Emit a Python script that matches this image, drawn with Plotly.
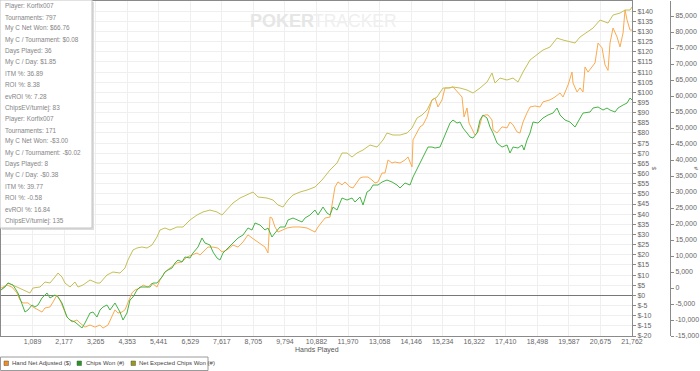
import plotly.graph_objects as go

# ---------------- data ----------------
HANDS_NET = [1, 207, 379, 552, 655, 759, 931, 1104, 1276, 1414, 1518, 1690, 1793, 1931, 2035, 2138, 2276, 2449, 2621, 2725,
             2897, 3070, 3242, 3415, 3518, 3690, 3828, 3932, 4035, 4173, 4277, 4380, 4518, 4622, 4794, 4898, 5070, 5208, 5380, 5484,
             5656, 5829, 6070, 6243, 6415, 6588, 6760, 6864, 7036, 7139, 7312, 7484, 7622, 7795, 8002, 8174, 8347, 8519, 8657, 8760,
             8933, 9105, 9209, 9278, 9346, 9450, 9554, 9692, 9864, 10071, 10313, 10554, 10726, 10830, 10933, 11071, 11175, 11347, 11451, 11520,
             11623, 11761, 11865, 12037, 12140, 12278, 12382, 12485, 12658, 12796, 12899, 13003, 13141, 13244, 13348, 13486, 13589, 13762, 13934, 14037,
             14175, 14210, 14348, 14451, 14555, 14693, 14865, 14969, 15072, 15210, 15314, 15486, 15589, 15762, 15900, 15969, 16072, 16141, 16245, 16348,
             16452, 16590, 16693, 16796, 16934, 16969, 17107, 17279, 17452, 17555, 17659, 17797, 17900, 18004, 18141, 18245, 18417, 18590, 18693, 18935,
             19107, 19280, 19383, 19555, 19693, 19728, 19866, 19970, 20073, 20142, 20246, 20384, 20487, 20591, 20729, 20832, 20935, 21004, 21108, 21246,
             21349, 21453, 21522, 21591, 21694, 21762]
HAND_NET_ADJUSTED = [3.6, 5.1, 4.1, 1.2, -2.3, -3.7, -3.7, -5.7, -7.1, -8.2, -6.2, -5.7, -3.3, 0.2, -2.3, -5.7, -10.6, -13.1, -12.1, -13.6,
                     -15.6, -14.6, -15.6, -14.6, -16.1, -14.6, -10.6, -7.1, -8.7, -8.2, -7.1, -3.3, 1.2, 2.7, 3.6, 5.1, 4.1, 6.1, 4.1, 7.6,
                     11.5, 13.5, 16.0, 16.5, 18.9, 19.9, 20.9, 19.9, 22.4, 23.8, 23.8, 23.3, 21.4, 22.4, 24.8, 23.8, 26.3, 29.8, 28.3, 27.3,
                     25.8, 23.8, 20.9, 38.6, 38.1, 33.7, 31.2, 32.2, 33.2, 33.7, 33.7, 33.2, 32.2, 31.2, 33.7, 36.2, 38.1, 38.6, 48.5, 53.4,
                     55.9, 54.4, 55.9, 53.4, 52.9, 55.4, 57.8, 58.3, 58.3, 56.8, 55.4, 55.9, 60.3, 60.3, 66.7, 65.2, 65.7, 65.2, 66.7, 68.2,
                     63.3, 76.6, 80.5, 83.0, 84.0, 87.9, 96.3, 97.2, 92.8, 96.3, 102.2, 102.2, 102.7, 100.2, 97.7, 87.9, 92.3, 84.9, 81.5, 79.0,
                     80.5, 87.9, 88.9, 88.9, 86.4, 81.5, 80.0, 83.0, 82.5, 85.4, 84.0, 80.5, 80.0, 85.4, 89.9, 92.8, 93.3, 92.8, 95.3, 96.3,
                     97.7, 99.7, 97.7, 103.6, 110.0, 104.6, 100.2, 102.2, 100.2, 112.5, 110.0, 112.5, 114.5, 124.3, 121.9, 113.5, 110.8, 124.3, 131.7, 127.3,
                     122.4, 129.2, 140.6, 135.7, 130.7, 130.7]

HANDS_WON = [1, 138, 241, 414, 586, 724, 828, 931, 1069, 1173, 1276, 1414, 1587, 1690, 1862, 1966, 2104, 2276, 2380, 2552,
             2656, 2794, 2897, 3070, 3173, 3311, 3415, 3518, 3656, 3759, 3932, 4104, 4208, 4346, 4449, 4553, 4691, 4794, 4967, 5139,
             5242, 5380, 5553, 5656, 5760, 5898, 6001, 6105, 6243, 6346, 6519, 6622, 6795, 6932, 7036, 7208, 7312, 7450, 7553, 7657,
             7829, 8002, 8174, 8347, 8519, 8657, 8760, 8933, 9105, 9209, 9346, 9450, 9623, 9795, 9899, 10071, 10244, 10381, 10485, 10657,
             10830, 10933, 11106, 11244, 11347, 11451, 11589, 11761, 11934, 12106, 12209, 12382, 12485, 12623, 12727, 12830, 13003, 13141, 13313, 13486,
             13658, 13762, 13934, 14106, 14210, 14382, 14520, 14624, 14727, 14865, 14969, 15141, 15245, 15383, 15486, 15589, 15727, 15831, 15934, 16072,
             16176, 16279, 16417, 16521, 16624, 16762, 16865, 16969, 17107, 17279, 17452, 17555, 17659, 17831, 17969, 18038, 18141, 18245, 18348, 18521,
             18693, 18866, 19038, 19176, 19280, 19452, 19624, 19797, 19970, 20073, 20315, 20418, 20591, 20763, 20901, 21004, 21177, 21280, 21453, 21591,
             21694, 21762]
CHIPS_WON = [-625, 313, 1563, 938, -1563, -4688, -7500, -6875, -5313, -5938, -5313, -3125, -1563, -3125, -2188, -2813, -4688, -9063, -10000, -10625,
             -11563, -12500, -10938, -7813, -7500, -9063, -6875, -5938, -5313, -6875, -4688, -7500, -10000, -7813, -3750, -2813, -625, 313, 313, 313,
             1563, 1563, 3438, 5000, 5625, 6250, 7813, 8750, 8125, 9688, 9375, 10938, 12813, 15625, 14063, 13438, 11250, 9375, 8750, 10938,
             12500, 14063, 15625, 16563, 18750, 18125, 20313, 19688, 18125, 18750, 15938, 17188, 19063, 19063, 21250, 21875, 21250, 20625, 21875, 22813,
             24375, 22813, 25313, 23438, 22813, 25313, 24375, 28125, 27500, 28125, 26875, 28438, 25938, 30000, 30625, 32188, 32188, 33125, 33750, 33125,
             32188, 31250, 32813, 32188, 34688, 37813, 40625, 42188, 44063, 44063, 43750, 44063, 46250, 49375, 51563, 52500, 51563, 51875, 50000, 48438,
             47188, 46875, 48438, 52500, 54063, 53125, 50313, 48438, 45313, 44063, 44688, 42188, 44063, 43750, 44688, 43125, 46250, 48438, 51875, 51563,
             53125, 54063, 54688, 56250, 54063, 52500, 51875, 50313, 53125, 54688, 55000, 56250, 56563, 55625, 56250, 55625, 55000, 56250, 57188, 57813,
             59375, 58750]

HANDS_EV = [1, 241, 552, 759, 1000, 1104, 1345, 1518, 1690, 1862, 1966, 2104, 2207, 2380, 2552, 2656, 2828, 3070, 3311, 3415,
            3656, 3863, 4104, 4277, 4380, 4553, 4691, 4863, 5036, 5208, 5380, 5484, 5656, 5829, 6070, 6277, 6519, 6760, 6967, 7208,
            7450, 7622, 7795, 8002, 8243, 8485, 8691, 8864, 9174, 9381, 9554, 9726, 9899, 10071, 10313, 10554, 10830, 11071, 11347, 11589,
            11761, 11934, 12106, 12278, 12485, 12727, 12968, 13175, 13313, 13520, 13762, 14003, 14175, 14348, 14520, 14693, 14865, 15038, 15245, 15417,
            15589, 15831, 16072, 16279, 16521, 16762, 16934, 17038, 17210, 17452, 17659, 17831, 18004, 18245, 18486, 18693, 18935, 19176, 19383, 19624,
            19797, 19970, 20211, 20418, 20660, 20832, 20935, 21108, 21349, 21522, 21694, 21762]
NET_EXPECTED_CHIPS = [-625, 1563, 313, -625, -1563, 0, 313, 1875, 1563, 3438, 4688, 3438, 1563, 313, 1875, 313, 938, 2500, 1563, 1563,
                      4063, 5000, 4688, 6250, 8750, 11875, 12500, 12813, 12500, 13438, 15938, 18125, 18750, 18125, 19063, 19063, 21250, 22813, 23750, 24375,
                      23750, 22813, 24375, 26563, 28125, 29063, 30000, 28438, 28125, 27500, 25938, 25313, 27500, 29063, 30000, 30625, 31563, 33750, 36875, 39063,
                      42188, 42188, 40938, 42188, 43125, 44688, 44063, 46250, 48438, 47813, 47813, 48438, 50000, 53125, 54063, 55625, 58750, 59688, 62500, 62500,
                      62813, 62500, 61875, 60938, 62500, 64375, 67188, 64063, 65625, 65000, 65625, 64375, 67500, 71250, 72813, 74375, 75313, 78125, 77500, 76875,
                      76563, 78438, 80000, 81250, 83750, 83125, 82813, 85313, 85938, 86875, 86875, 87813]

X_TICK_VALUES = [1, 1089, 2177, 3265, 4353, 5441, 6529, 7617, 8705, 9794, 10882, 11970, 13058, 14146, 15234, 16322, 17410, 18498, 19587, 20675, 21762]
X_TICK_LABELS = ["1", "1,089", "2,177", "3,265", "4,353", "5,441", "6,529", "7,617", "8,705", "9,794", "10,882", "11,970",
                 "13,058", "14,146", "15,234", "16,322", "17,410", "18,498", "19,587", "20,675", "21,762"]
DOLLAR_TICKS = list(range(-20, 145, 5))
DOLLAR_LABELS = ["$%d" % v for v in DOLLAR_TICKS]
CHIP_TICKS = list(range(-15000, 90001, 5000))
CHIP_LABELS = ["{:,}".format(v) for v in CHIP_TICKS]

INFO_LINES = ["Player: Korfix007", "Tournaments: 797", "My C Net Won: $66.76", "My C / Tournament: $0.08",
              "Days Played: 36", "My C / Day: $1.85", "ITM %: 36.89", "ROI %: 8.38", "evROI %: 7.28",
              "ChipsEV/turniej: 83", "Player: Korfix007", "Tournaments: 171", "My C Net Won: -$3.00",
              "My C / Tournament: -$0.02", "Days Played: 8", "My C / Day: -$0.38", "ITM %: 39.77",
              "ROI %: -0.58", "evROI %: 16.84", "ChipsEV/turniej: 135"]

SERIES_NAMES = ["Hand Net Adjusted ($)", "Chips Won (#)", "Net Expected Chips Won (#)"]
LINE_COLORS = ["#FBAA4E", "#45B445", "#C5BF55"]
SWATCH_COLORS = ["#F28C1C", "#1E9A1E", "#9C9A12"]

# ---------------- geometry helpers ----------------
W, H = 700, 371
ML, MR, MT, MB = 1, 30, 1, 35
PW, PH = W - ML - MR, H - MT - MB


def px(x):
    return (x - ML) / PW


def py(y):
    return (H - MB - y) / PH


FONT = "Liberation Sans, Arial, sans-serif"

fig = go.Figure()
fig.add_trace(go.Scatter(x=HANDS_EV, y=NET_EXPECTED_CHIPS, mode="lines", yaxis="y2",
                         line=dict(color=LINE_COLORS[2], width=1), name=SERIES_NAMES[2]))
fig.add_trace(go.Scatter(x=HANDS_WON, y=CHIPS_WON, mode="lines", yaxis="y2",
                         line=dict(color=LINE_COLORS[1], width=1), name=SERIES_NAMES[1]))
fig.add_trace(go.Scatter(x=HANDS_NET, y=HAND_NET_ADJUSTED, mode="lines", yaxis="y",
                         line=dict(color=LINE_COLORS[0], width=1), name=SERIES_NAMES[0]))

tickfont = dict(family=FONT, size=7, color="#666666")

fig.update_layout(
    width=W, height=H, margin=dict(l=ML, r=MR, t=MT, b=MB),
    paper_bgcolor="white", plot_bgcolor="white", showlegend=False,
    xaxis=dict(domain=[0, px(632)], range=[1, 21762], tickvals=X_TICK_VALUES, ticktext=X_TICK_LABELS,
               tickfont=tickfont, showgrid=True, gridcolor="#efefef", gridwidth=1,
               showline=True, linecolor="#8a8a8a", linewidth=1, mirror=True,
               ticks="", ticklabelstandoff=-1, zeroline=False, fixedrange=True),
    yaxis=dict(side="right", anchor="x", range=[-20, 145], tickvals=DOLLAR_TICKS, ticktext=DOLLAR_LABELS,
               tickfont=tickfont, showgrid=True, gridcolor="#efefef", gridwidth=1,
               showline=True, linecolor="#8a8a8a", linewidth=1, mirror=True,
               ticks="outside", ticklen=3, tickcolor="#8a8a8a",
               zeroline=True, zerolinecolor="#777777", zerolinewidth=1),
    yaxis2=dict(side="right", overlaying="y", anchor="free", position=1.0, range=[-15000, 89700],
                tickvals=CHIP_TICKS, ticktext=CHIP_LABELS, tickfont=tickfont, showgrid=False,
                showline=True, linecolor="#8a8a8a", linewidth=1, ticks="outside", ticklen=3,
                tickcolor="#8a8a8a", zeroline=False),
)

shapes = []
annotations = []

# watermark
annotations.append(dict(xref="paper", yref="paper", x=px(248), y=py(21), xanchor="left", yanchor="middle",
                        text="<b>POKER</b>", showarrow=False,
                        font=dict(family=FONT, size=18, color="#e6e6e6")))
annotations.append(dict(xref="paper", yref="paper", x=px(311), y=py(21), xanchor="left", yanchor="middle",
                        text="TRACKER", showarrow=False,
                        font=dict(family=FONT, size=17.5, color="#efefef")))

# info box with shadow
shapes.append(dict(type="rect", xref="paper", yref="paper", x0=px(2), x1=px(94), y0=py(230), y1=py(2),
                   fillcolor="#dcdcdc", line=dict(width=0), layer="above"))
shapes.append(dict(type="rect", xref="paper", yref="paper", x0=px(0), x1=px(92), y0=py(228), y1=py(0),
                   fillcolor="white", line=dict(color="#c4c4c4", width=1), layer="above"))
for i, line in enumerate(INFO_LINES):
    annotations.append(dict(xref="paper", yref="paper", x=px(2.5), y=py(5.8 + i * 11.3), xanchor="left",
                            yanchor="middle", text=line, showarrow=False,
                            font=dict(family=FONT, size=6.4, color="#858585")))

# axis titles
annotations.append(dict(xref="paper", yref="paper", x=px(316.5), y=py(349.5), xanchor="center", yanchor="middle",
                        text="Hands Played", showarrow=False, font=dict(family=FONT, size=7, color="#555555")))
annotations.append(dict(xref="paper", yref="paper", x=px(654), y=py(168), xanchor="center", yanchor="middle",
                        text="$", textangle=-90, showarrow=False, font=dict(family=FONT, size=6, color="#555555")))
annotations.append(dict(xref="paper", yref="paper", x=px(696), y=py(168), xanchor="center", yanchor="middle",
                        text="#", textangle=-90, showarrow=False, font=dict(family=FONT, size=6, color="#555555")))

# legend
shapes.append(dict(type="rect", xref="paper", yref="paper", x0=px(0.5), x1=px(208), y0=py(370.5), y1=py(357),
                   fillcolor="white", line=dict(color="#9a9a9a", width=1)))
sw_x = [4, 77, 131]
tx_x = [10, 83.5, 137]
for sx, tx, name, col in zip(sw_x, tx_x, SERIES_NAMES, SWATCH_COLORS):
    shapes.append(dict(type="rect", xref="paper", yref="paper", x0=px(sx), x1=px(sx + 4.5), y0=py(365.5), y1=py(361),
                       fillcolor=col, line=dict(color="#555555", width=0.5)))
    annotations.append(dict(xref="paper", yref="paper", x=px(tx), y=py(363.3), xanchor="left", yanchor="middle",
                            text=name, showarrow=False, font=dict(family=FONT, size=6, color="#444444")))

fig.update_layout(shapes=shapes, annotations=annotations)
fig.write_html("out.html", config={"displayModeBar": False},
               post_script="document.body.style.margin='0';document.body.style.padding='0';")
